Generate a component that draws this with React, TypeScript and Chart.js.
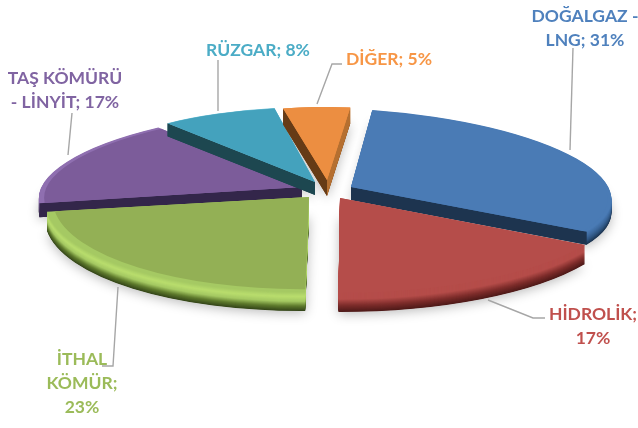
import React, { useEffect, useRef } from "react";
import { Chart, registerables } from "chart.js";

Chart.register(...registerables);

const categories = ["DOĞALGAZ - LNG", "HİDROLİK", "İTHAL KÖMÜR", "TAŞ KÖMÜRÜ - LİNYİT", "RÜZGAR", "DİĞER"];
const shares = [31, 17, 23, 17, 8, 5];

const faceColors = ["#4A7BB5", "#B54D4A", "#93B055", "#7C5C9A", "#44A2BD", "#EC8E41"];
// Only the radial faces the viewer can see get a colour.
const startCutColors = [null, null, null, "#33264A", "#1D4750", "#663B16"];
const endCutColors = ["#1D344F", null, null, null, null, "#B56F30"];
const rimStops = [
  ["#4A7BB5", "#3f6b9f", "#2f5580", "#1d344f"],
  ["#B54D4A", "#B54D4A", "#7d2d2b", "#4e1a19"],
  ["#a5c963", "#b9dd6e", "#a5c963", "#5e7a2d", "#35461a"],
  ["#8f6fb0", "#7c5c9a", "#4d3a66", "#33264a"],
  ["#6fc0d6", "#1D4750"],
  ["#EC8E41", "#b56f30", "#7e4a1d"],
];
// Per-slice view of the tilted, exploded pie: [m11, m12, m21, m22, originX, originY, depth, faceScale]
const views = [
  [260, 15, 8, 79, 351, 187, 13, 0.985],
  [282, -6, 2, 95, 340, 198, 19, 1],
  [264, -8, 0, 95, 309, 197, 19, 0.97],
  [262, -24, -4, 79, 302, 187, 14, 0.98],
  [238, 0, 0, 75, 315, 182, 13, 0.995],
  [217, 7, -2, 73, 327, 180, 16, 1],
];
const paintOrder = [3, 4, 5, 0, 1, 2];

const labelColors = ["#4F81BD", "#C0504D", "#9BBB59", "#8064A2", "#4BACC6", "#F79646"];
const labelLines = [
  ["DOĞALGAZ -", "LNG; 31%"],
  ["HİDROLİK;", "17%"],
  ["İTHAL", "KÖMÜR;", "23%"],
  ["TAŞ KÖMÜRÜ", "- LİNYİT; 17%"],
  ["RÜZGAR; 8%"],
  ["DİĞER; 5%"],
];
const labelAnchors = [
  [585, 16],
  [593, 314],
  [82, 359],
  [65, 78],
  [258, 50],
  [389, 59],
];
const leaderPaths = [
  [[573, 48], [570, 150]],
  [[545, 318], [533, 318], [488, 300]],
  [[102, 366], [113, 366], [118, 287]],
  [[72, 113], [68, 155]],
  [[218, 60], [218, 111]],
  [[342, 64], [332, 64], [317, 104]],
];

function hexToRgb(h: string) {
  return [parseInt(h.slice(1, 3), 16), parseInt(h.slice(3, 5), 16), parseInt(h.slice(5, 7), 16)];
}
function mix(stops: string[], t: number) {
  const p = t * (stops.length - 1);
  const i = Math.min(Math.floor(p), stops.length - 2);
  const f = p - i;
  const a = hexToRgb(stops[i]);
  const b = hexToRgb(stops[i + 1]);
  return `rgb(${a.map((v, k) => Math.round(v + (b[k] - v) * f)).join(",")})`;
}

function paintArc(ctx: any, arc: any, index: number, dy: number, color: string, radiusScale: number) {
  const v = views[index];
  const R = arc.outerRadius;
  const savedOptions = arc.options;
  ctx.save();
  ctx.translate(v[4], v[5] + dy);
  ctx.transform(v[0] / R, v[2] / R, v[1] / R, v[3] / R, 0, 0);
  ctx.translate(-arc.x, -arc.y);
  arc.options = { ...savedOptions, backgroundColor: color, borderWidth: 0, offset: 0 };
  arc.outerRadius = R * radiusScale;
  arc.draw(ctx);
  arc.outerRadius = R;
  arc.options = savedOptions;
  ctx.restore();
}

// The radial cut face of a slice, swept down from the angle the arc element holds.
function paintCut(ctx: any, index: number, angle: number, depth: number, color: string | null) {
  if (!color) return;
  const v = views[index];
  const ex = v[4] + v[0] * Math.cos(angle) + v[1] * Math.sin(angle);
  const ey = v[5] + v[2] * Math.cos(angle) + v[3] * Math.sin(angle);
  ctx.fillStyle = color;
  ctx.beginPath();
  ctx.moveTo(v[4], v[5]);
  ctx.lineTo(ex, ey);
  ctx.lineTo(ex, ey + depth);
  ctx.lineTo(v[4], v[5] + depth);
  ctx.closePath();
  ctx.fill();
}

const tiltedPie = {
  id: "tiltedPie",
  beforeDatasetsDraw(chart: any) {
    const ctx = chart.ctx;
    const arcs = chart.getDatasetMeta(0).data;
    ctx.save();
    ctx.shadowColor = "rgba(0,0,0,0.28)";
    ctx.shadowBlur = 12;
    ctx.shadowOffsetY = 2;
    paintOrder.forEach((i) => paintArc(ctx, arcs[i], i, views[i][6], "#ffffff", 1));
    ctx.restore();
    paintOrder.forEach((i) => {
      const depth = views[i][6];
      for (let k = depth; k >= 0; k -= 0.5) {
        paintArc(ctx, arcs[i], i, k, mix(rimStops[i], k / depth), 1);
      }
      paintCut(ctx, i, arcs[i].endAngle, depth, endCutColors[i]);
      paintCut(ctx, i, arcs[i].startAngle, depth, startCutColors[i]);
      paintArc(ctx, arcs[i], i, 0, faceColors[i], views[i][7]);
    });
    return false;
  },
  afterDraw(chart: any) {
    const ctx = chart.ctx;
    ctx.save();
    ctx.strokeStyle = "#A6A6A6";
    ctx.lineWidth = 1.4;
    leaderPaths.forEach((path) => {
      ctx.beginPath();
      path.forEach((p, j) => (j === 0 ? ctx.moveTo(p[0], p[1]) : ctx.lineTo(p[0], p[1])));
      ctx.stroke();
    });
    ctx.font = "bold 17.5px Lato";
    ctx.textAlign = "center";
    ctx.textBaseline = "middle";
    labelLines.forEach((lines, i) => {
      ctx.fillStyle = labelColors[i];
      lines.forEach((line, j) => ctx.fillText(line, labelAnchors[i][0], labelAnchors[i][1] + j * 24));
    });
    ctx.restore();
  },
};

export default function App() {
  const ref = useRef<HTMLCanvasElement | null>(null);
  useEffect(() => {
    const chart = new Chart(ref.current as HTMLCanvasElement, {
      type: "pie",
      data: {
        labels: categories,
        datasets: [{ data: shares, backgroundColor: faceColors, borderWidth: 0 }],
      },
      options: {
        animation: false,
        responsive: false,
        rotation: 8,
        layout: { padding: 0 },
        plugins: { legend: { display: false }, tooltip: { enabled: false } },
      },
      plugins: [tiltedPie],
    } as any);
    return () => chart.destroy();
  }, []);
  return (
    <canvas
      ref={ref}
      width={638}
      height={428}
      style={{ position: "fixed", left: 0, top: 0, width: 638, height: 428, background: "#fff" }}
    />
  );
}
